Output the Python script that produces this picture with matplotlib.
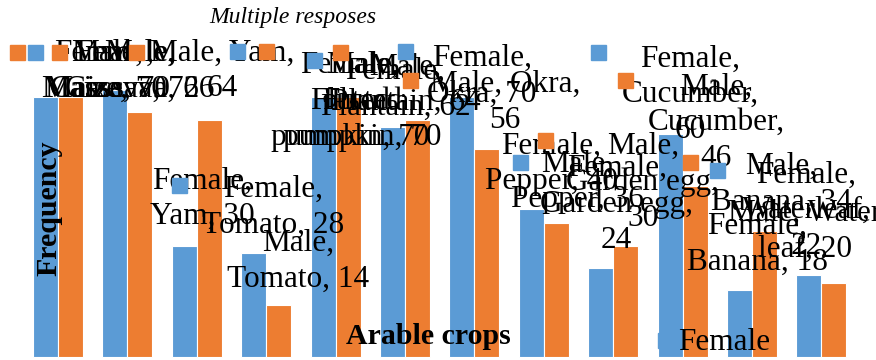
import matplotlib
matplotlib.use("Agg")
import matplotlib.pyplot as plt
import numpy as np
from matplotlib.patches import Rectangle

# data
crops  = ["Maize", "Cassava", "Yam", "Tomato", "Fluted pumpkin", "Plantain",
          "Okra", "Pepper", "Garden egg", "Cucumber", "Banana", "Waterleaf"]
female = [70, 72, 30, 28, 70, 62, 70, 40, 24, 60, 18, 22]
male   = [70, 66, 64, 14, 70, 64, 56, 36, 30, 46, 34, 20]

# how each data label got wrapped in the original
female_fmt = ["{s},\n{c}, {v}", "{s},\n{c}, {v}", "{s},\n{c}, {v}", "{s},\n{c}, {v}",
              "{s},\nFluted\npumpkin, {v}", "{s},\n{c}, {v}", "{s},\n{c}, {v}",
              "{s},\n{c}, {v}", "{s},\n{c},\n{v}", "{s},\n{c},\n{v}",
              "{s},\n{c}, {v}", "{s},\n{c},\n{v}"]
male_fmt = ["{s},\n{c}, {v}", "{s},\n{c}, {v}", "{s}, {c},\n{v}", "{s},\n{c}, {v}",
            "{s},\nFluted\npumpkin, {v}", "{s},\n{c}, {v}", "{s}, {c},\n{v}",
            "{s},\n{c}, {v}", "{s},\n{c},\n{v}", "{s},\n{c},\n{v}",
            "{s},\n{c}, {v}", "{s}, Water\nleaf, {v}"]

# label offsets (pixels) from the top of each bar
female_off = [(59, 58), (10, 51), (18, 79), (19, 78), (27, 46), (3, 70),
              (20, 53), (20, 77), (16, 114), (20, 90), (18, 78), (-3, 115)]
male_off = [(37, 58), (0, 73), (13, 81), (19, 76), (14, 46), (-12, 67),
            (18, 79), (21, 74), (17, 114), (21, 114), (17, 79), (-29, 84)]

# stray legend-key squares (figure pixels from top-left)
keys = [(17, 52, "o"), (35, 52, "b"), (59, 52, "o"), (136, 52, "o"),
        (237, 51, "b"), (266, 51, "o"), (314, 60, "b"), (340, 52, "o"),
        (405, 51, "b"), (410, 80, "o"), (545, 140, "o"), (520, 162, "b"),
        (598, 52, "b"), (625, 80, "o"), (690, 162, "o"), (717, 170, "b"),
        (179, 185, "b")]

blue = "#5B9BD5"
orange = "#ED7D31"
W, H = 876, 360

plt.rcParams['font.family'] = ['Liberation Serif', 'DejaVu Serif']

fig = plt.figure(figsize=(W / 100, H / 100), dpi=100)
ax = fig.add_axes([0, 0, 1, 1])
ax.set_xlim(-58 / 69.4, (W - 58) / 69.4)
ax.set_ylim(-3 / 3.71, (H - 3) / 3.71)
ax.axis("off")

x = np.arange(len(crops))
bw = 0.36
ax.bar(x - bw / 2, female, bw, color=blue, edgecolor="white", linewidth=0.8, zorder=2)
ax.bar(x + bw / 2, male, bw, color=orange, edgecolor="white", linewidth=0.8, zorder=2)

lab_kw = dict(textcoords="offset pixels", ha="center", va="top",
              fontsize=22.5, linespacing=1.3, zorder=4)
for i, c in enumerate(crops):
    ax.annotate(female_fmt[i].format(s="Female", c=c, v=female[i]),
                xy=(x[i] - bw / 2, female[i]), xytext=female_off[i], **lab_kw)
    ax.annotate(male_fmt[i].format(s="Male", c=c, v=male[i]),
                xy=(x[i] + bw / 2, male[i]), xytext=male_off[i], **lab_kw)

for kx, ky, col in keys:
    fig.add_artist(Rectangle(((kx - 7.5) / W, 1 - (ky + 7.5) / H), 15 / W, 15 / H,
                             transform=fig.transFigure,
                             color=blue if col == "b" else orange, zorder=5))

fig.text(293 / W, 1 - 18 / H, "Multiple resposes", ha="center", va="center",
         fontsize=17, style="italic")
fig.text(49 / W, 1 - 208 / H, "Frequency", ha="center", va="center",
         fontsize=21.5, fontweight="bold", rotation=90, zorder=6)
fig.text(428 / W, 1 - 337 / H, "Arable crops", ha="center", va="center",
         fontsize=21.5, fontweight="bold", zorder=6)

# bottom legend entry
fig.add_artist(Rectangle((658 / W, 1 - 348 / H), 15 / W, 15 / H,
                         transform=fig.transFigure, color=blue, zorder=5))
fig.text(678 / W, 1 - 342 / H, "Female", ha="left", va="center", fontsize=22.5, zorder=6)

fig.savefig("out.png", dpi=100)
